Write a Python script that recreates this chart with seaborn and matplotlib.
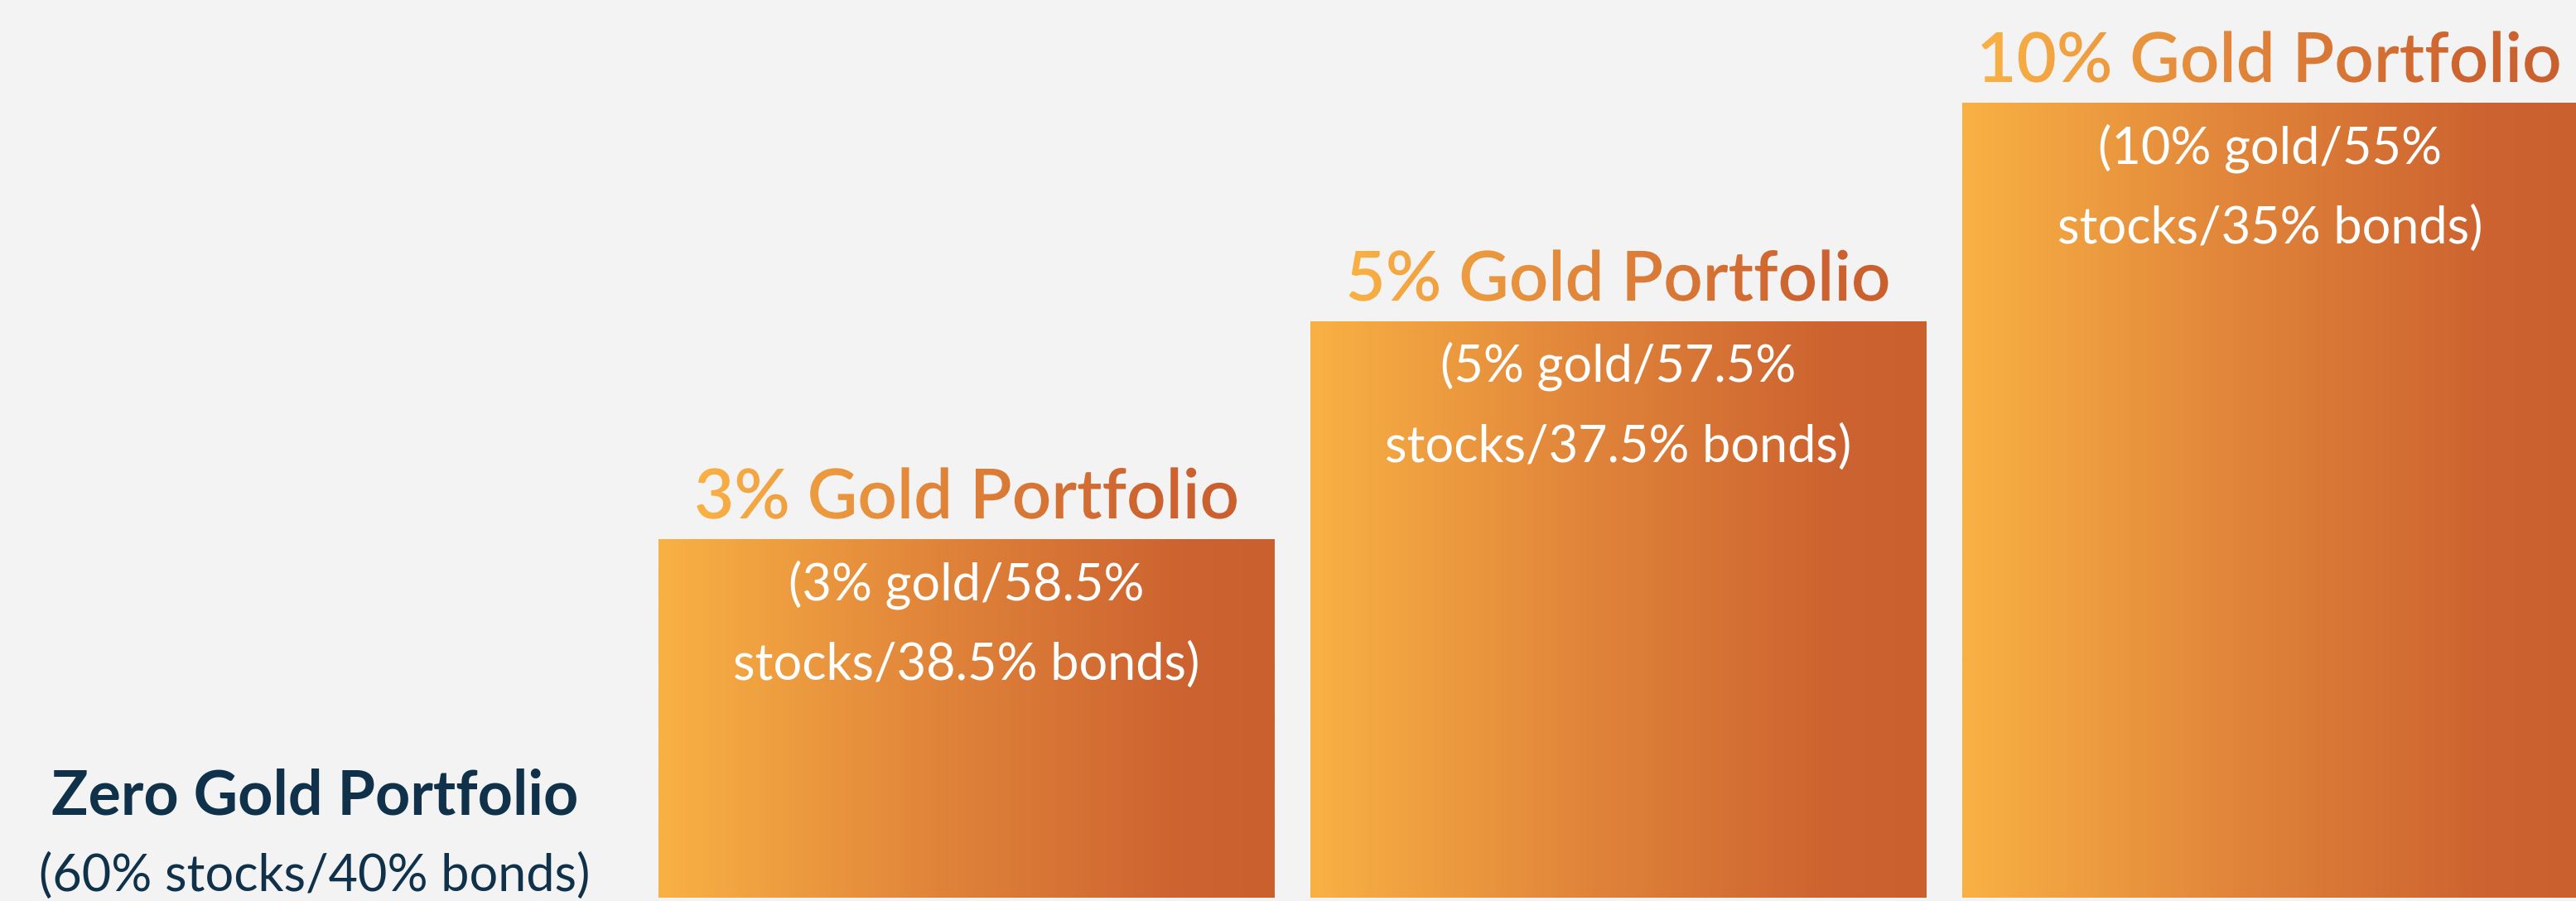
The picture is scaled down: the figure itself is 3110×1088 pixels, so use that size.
"""
Gold allocation step chart: zero / 3% / 5% / 10% gold portfolios
"""

import numpy as np
import pandas as pd
import seaborn as sns
import matplotlib.pyplot as plt
from matplotlib.colors import LinearSegmentedColormap
from matplotlib.textpath import TextPath
from matplotlib.font_manager import FontProperties
from matplotlib.patches import PathPatch
from matplotlib.transforms import Affine2D, ScaledTranslation

portfolios = ['Zero Gold Portfolio', '3% Gold Portfolio',
              '5% Gold Portfolio', '10% Gold Portfolio']
heights = [0, 4.33, 6.96, 9.60]
mixes = ['(60% stocks/40% bonds)',
         '(3% gold/58.5%\nstocks/38.5% bonds)',
         '(5% gold/57.5%\nstocks/37.5% bonds)',
         '(10% gold/55%\nstocks/35% bonds)']

bg = '#F3F3F3'
navy = '#10314A'
cmap = LinearSegmentedColormap.from_list(
    'gold', [(0, '#F9B144'), (0.45, '#E0843A'), (0.85, '#CD6330'), (1, '#CA602D')])
grad = np.linspace(0, 1, 256).reshape(1, -1)

sns.set_theme(style='white')
plt.rcParams['font.family'] = ['Lato', 'DejaVu Sans']

df = pd.DataFrame({'portfolio': portfolios, 'height': heights})

fig = plt.figure(figsize=(31.1, 10.88), dpi=100, facecolor=bg)
ax = fig.add_axes([0, 4 / 1088, 1, 1084 / 1088])
ax.set_facecolor(bg)

sns.barplot(data=df, x='portfolio', y='height', ax=ax, width=0.945,
            color='#E0843A', saturation=1, edgecolor='none', linewidth=0)

XLIM = (-0.483, 3.469)
YLIM = (0, 10.84)
ax.set_xlim(XLIM)
ax.set_ylim(YLIM)
ax.axis('off')

# horizontal gradient fill for each bar
for p in ax.patches:
    h = p.get_height()
    if h <= 0:
        continue
    x0 = p.get_x()
    im = ax.imshow(grad, cmap=cmap, extent=[x0, x0 + p.get_width(), 0, h],
                   aspect='auto', zorder=p.get_zorder() + 0.1)
    im.set_clip_path(p)
ax.set_xlim(XLIM)
ax.set_ylim(YLIM)


def gradient_text(x, y, s, size, weight):
    fp = FontProperties(family='Lato', weight=weight)
    tp = TextPath((0, 0), s, size=size, prop=fp)
    ext = tp.get_extents()
    tr = (Affine2D().translate(-(ext.x0 + ext.x1) / 2, 0).scale(1 / 72)
          + fig.dpi_scale_trans + ScaledTranslation(x, y, ax.transData))
    box = tr.transform_path(tp).get_extents()
    (dx0, dy0), (dx1, dy1) = ax.transData.inverted().transform(
        [[box.x0, box.y0], [box.x1, box.y1]])
    im = ax.imshow(grad, cmap=cmap, extent=[dx0, dx1, dy0, dy1],
                   aspect='auto', zorder=6)
    im.set_clip_path(PathPatch(tp, transform=tr))


for i, (name, h, mix) in enumerate(zip(portfolios, heights, mixes)):
    if h == 0:
        ax.text(i, 1.0, name, ha='center', va='baseline', color=navy,
                fontsize=53, fontweight='bold')
        ax.text(i, 0.08, mix, ha='center', va='baseline', color=navy,
                fontsize=44)
        continue
    gradient_text(i, h + 0.25, name, 60, 'semibold')
    line1, line2 = mix.split('\n')
    ax.text(i, h - 0.73, line1, ha='center', va='baseline', color='white',
            fontsize=44, zorder=7)
    ax.text(i, h - 1.70, line2, ha='center', va='baseline', color='white',
            fontsize=44, zorder=7)

ax.set_xlim(XLIM)
ax.set_ylim(YLIM)

plt.savefig('out.png', dpi=100, facecolor=bg)
